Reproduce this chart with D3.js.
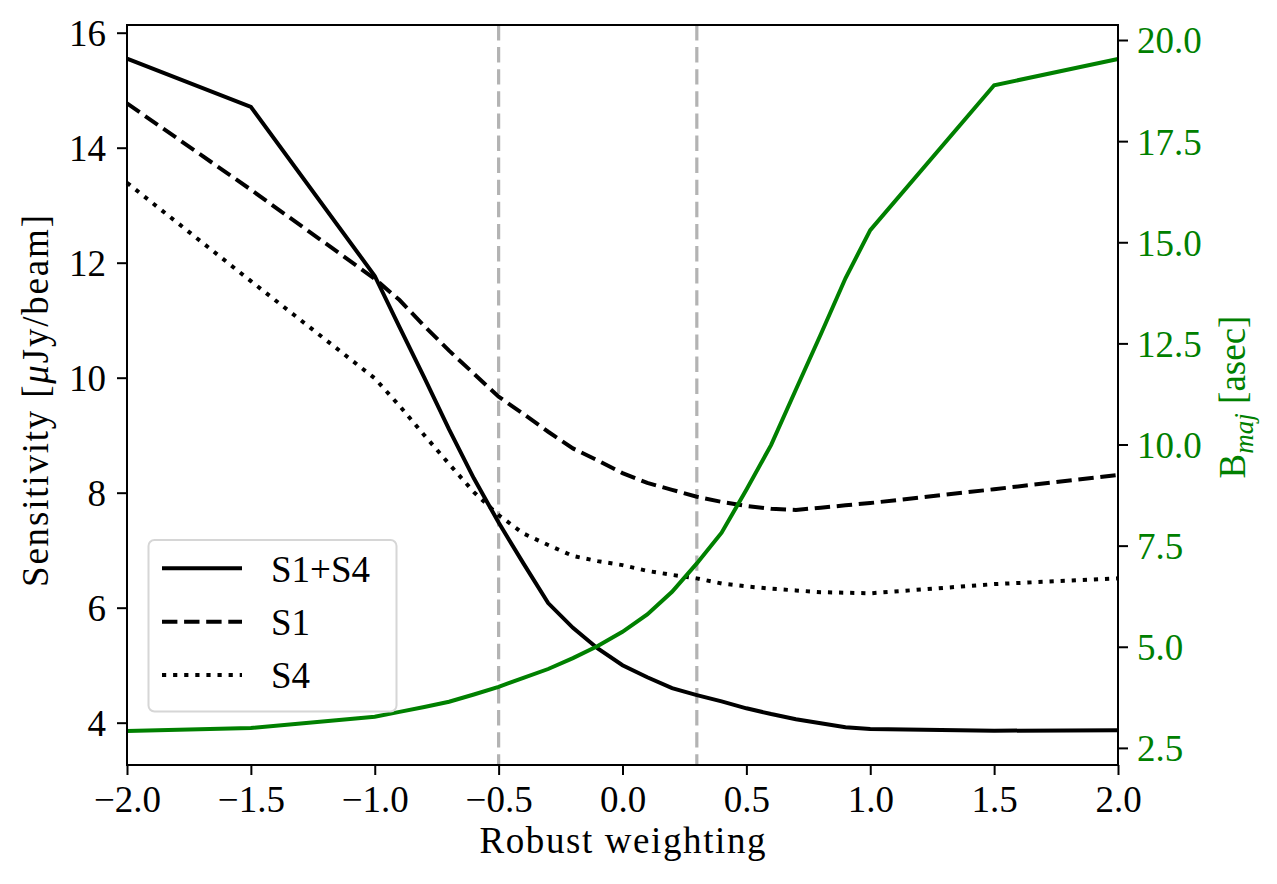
<!DOCTYPE html>
<html>
<head>
<meta charset="utf-8">
<script src="https://cdn.jsdelivr.net/npm/d3@7"></script>
<style>
    body { margin: 0; background: #fff; }
    svg { display: block; }
</style>
</head>
<body>
<div id="chart"></div>
<script>

const robust = [-2, -1.5, -1, -0.9, -0.8, -0.7, -0.6, -0.5, -0.4, -0.3, -0.2, -0.1, 0,
    0.1, 0.2, 0.3, 0.4, 0.5, 0.6, 0.7, 0.8, 0.9, 1, 1.5, 2];

const sensS1S4 = [15.55, 14.71, 11.77, 10.88, 10.0, 9.1, 8.25, 7.48, 6.77, 6.08, 5.65, 5.29, 5.0,
    4.79, 4.60, 4.48, 4.37, 4.25, 4.15, 4.06, 3.99, 3.92, 3.89, 3.86, 3.87];

const sensS1 = [14.77, 13.27, 11.72, 11.35, 10.90, 10.47, 10.07, 9.67, 9.37, 9.06, 8.77, 8.56, 8.34,
    8.17, 8.05, 7.93, 7.84, 7.77, 7.72, 7.70, 7.74, 7.78, 7.82, 8.06, 8.31];

const sensS4 = [13.39, 11.68, 9.99, 9.51, 9.0, 8.5, 8.01, 7.61, 7.29, 7.09, 6.90, 6.81, 6.74,
    6.64, 6.57, 6.51, 6.42, 6.37, 6.33, 6.30, 6.27, 6.26, 6.25, 6.41, 6.51];

const beamMaj = [2.92, 2.99, 3.27, 3.39, 3.51, 3.64, 3.82, 4.01, 4.23, 4.45, 4.72, 5.02, 5.37,
    5.80, 6.36, 7.06, 7.82, 8.88, 9.99, 11.36, 12.72, 14.11, 15.30, 18.88, 19.53];

const xTicks = [-2, -1.5, -1, -0.5, 0, 0.5, 1, 1.5, 2];
const yTicks = [4, 6, 8, 10, 12, 14, 16];
const y2Ticks = [2.5, 5, 7.5, 10, 12.5, 15, 17.5, 20];
const markers = [-0.5, 0.3];

const legendLabels = ['S1+S4', 'S1', 'S4'];

(function () {

    let
        width = 1277,
        height = 884,
        m = { left: 127, right: 1118, top: 25, bottom: 765 },
        font = '"Liberation Serif", "DejaVu Serif", serif',
        fs = 37,
        green = '#008000',
        dash = '15.4,6.7',
        dot = '4.2,6.9',

        x = d3.scaleLinear().domain([-2, 2]).range([m.left, m.right]),
        y = d3.scaleLinear().domain([3.264, 16.134]).range([m.bottom, m.top]),
        y2 = d3.scaleLinear().domain([2.077, 20.371]).range([m.bottom, m.top]),

        svg = d3
            .select('#chart')
            .append('svg')
            .attr('width', width)
            .attr('height', height)
            .style('font-family', font);

    svg.append('rect')
        .attr('width', width)
        .attr('height', height)
        .style('fill', '#fff');

    // grey reference lines
    markers.forEach(function (v) {
        svg.append('line')
            .attr('x1', x(v))
            .attr('x2', x(v))
            .attr('y1', m.top)
            .attr('y2', m.bottom)
            .style('stroke', '#b3b3b3')
            .style('stroke-width', 3.2)
            .style('stroke-dasharray', dash);
    });

    let series = [
        { values: sensS1S4, dash: null },
        { values: sensS1, dash: dash },
        { values: sensS4, dash: dot }
    ];

    let line = d3.line()
        .x(function (d) { return x(d[0]); })
        .y(function (d) { return y(d[1]); });

    series.forEach(function (s) {
        svg.append('path')
            .datum(d3.zip(robust, s.values))
            .attr('d', line)
            .style('fill', 'none')
            .style('stroke', '#000')
            .style('stroke-width', 4)
            .style('stroke-dasharray', s.dash);
    });

    let line2 = d3.line()
        .x(function (d) { return x(d[0]); })
        .y(function (d) { return y2(d[1]); });

    svg.append('path')
        .datum(d3.zip(robust, beamMaj))
        .attr('d', line2)
        .style('fill', 'none')
        .style('stroke', green)
        .style('stroke-width', 4);

    // frame
    svg.append('rect')
        .attr('x', m.left)
        .attr('y', m.top)
        .attr('width', m.right - m.left)
        .attr('height', m.bottom - m.top)
        .style('fill', 'none')
        .style('stroke', '#000')
        .style('stroke-width', 2);

    let fmt = function (d) {
        return d3.format('.1f')(d).replace('-', '\u2212');
    };

    let gx = svg.append('g')
        .attr('transform', 'translate(0,' + m.bottom + ')')
        .call(d3.axisBottom(x).tickValues(xTicks).tickSize(10).tickFormat(fmt));

    gx.selectAll('text')
        .attr('y', 47)
        .attr('dy', null);

    let gy = svg.append('g')
        .attr('transform', 'translate(' + m.left + ',0)')
        .call(d3.axisLeft(y).tickValues(yTicks).tickSize(10));

    gy.selectAll('text')
        .attr('x', -21)
        .attr('dy', '0.35em');

    let gy2 = svg.append('g')
        .attr('transform', 'translate(' + m.right + ',0)')
        .call(d3.axisRight(y2).tickValues(y2Ticks).tickSize(10).tickFormat(d3.format('.1f')));

    gy2.selectAll('text')
        .attr('x', 19)
        .attr('dy', '0.35em')
        .style('fill', green);

    [gx, gy, gy2].forEach(function (g) {
        g.select('.domain').remove();
        g.selectAll('line').style('stroke', '#000').style('stroke-width', 2);
        g.selectAll('text')
            .style('font-family', font)
            .style('font-size', fs + 'px');
        g.attr('font-family', null);
    });
    gx.selectAll('text').style('fill', '#000');
    gy.selectAll('text').style('fill', '#000');

    // axis titles
    svg.append('text')
        .attr('x', (m.left + m.right) / 2)
        .attr('y', 853)
        .attr('text-anchor', 'middle')
        .attr('textLength', 286)
        .attr('lengthAdjust', 'spacing')
        .style('font-size', fs + 'px')
        .text('Robust weighting');

    let yl = svg.append('text')
        .attr('transform', 'translate(48,' + ((m.top + m.bottom) / 2 + 6) + ') rotate(-90)')
        .attr('text-anchor', 'middle')
        .attr('textLength', 372)
        .attr('lengthAdjust', 'spacing')
        .style('font-size', fs + 'px');
    yl.append('tspan').text('Sensitivity [');
    yl.append('tspan').style('font-style', 'italic').text('\u03bc');
    yl.append('tspan').text('Jy/beam]');

    let yr = svg.append('text')
        .attr('transform', 'translate(1245,' + ((m.top + m.bottom) / 2 + 2) + ') rotate(-90)')
        .attr('text-anchor', 'middle')
        .style('font-size', fs + 'px')
        .style('fill', green);
    yr.append('tspan').text('B');
    yr.append('tspan')
        .attr('dy', 8)
        .style('font-style', 'italic')
        .style('font-size', '27px')
        .text('maj');
    yr.append('tspan')
        .attr('dy', -8)
        .text(' [asec]');

    // legend
    let lg = svg.append('g');

    lg.append('rect')
        .attr('x', 148.5)
        .attr('y', 540)
        .attr('width', 248)
        .attr('height', 171.5)
        .attr('rx', 6)
        .style('fill', '#fff')
        .style('fill-opacity', 0.8)
        .style('stroke', '#d6d6d6')
        .style('stroke-width', 2);

    for (let i = 0; i < series.length; i++) {

        let ly = 568.3 + i * 53.4;

        lg.append('line')
            .attr('x1', 162)
            .attr('x2', 242)
            .attr('y1', ly)
            .attr('y2', ly)
            .style('stroke', '#000')
            .style('stroke-width', 4)
            .style('stroke-dasharray', series[i].dash);

        lg.append('text')
            .attr('x', 271)
            .attr('y', ly)
            .attr('dy', '0.36em')
            .style('font-size', fs + 'px')
            .text(legendLabels[i]);
    }

})();
</script>
</body>
</html>
